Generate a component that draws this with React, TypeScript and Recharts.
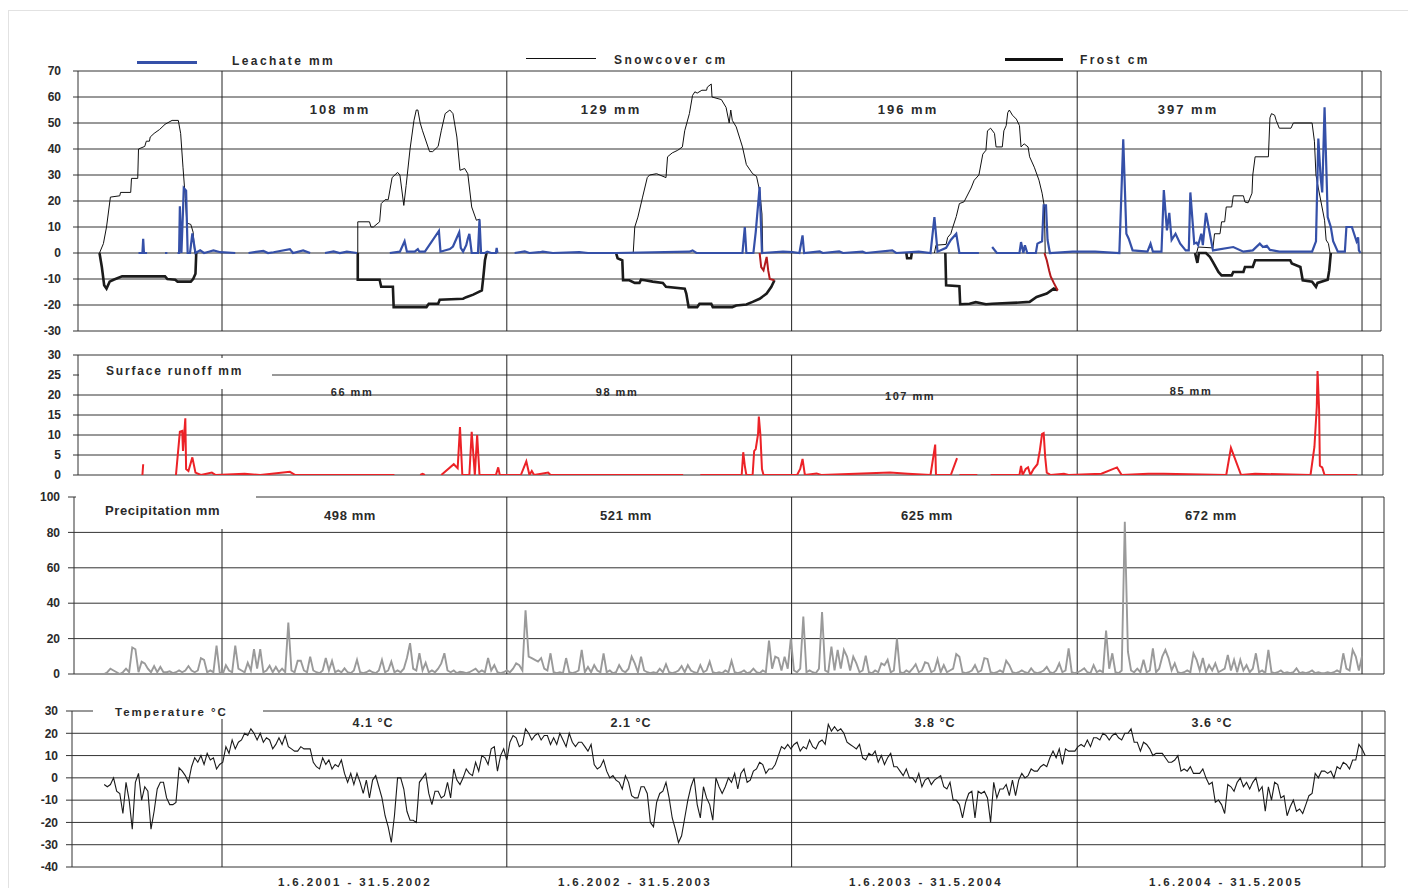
import { LineChart, Line, XAxis, YAxis, CartesianGrid, ReferenceLine } from "recharts";

// x values are days counted from 1.1.2001
const yearStarts = [151, 516, 881, 1247, 1612];
const periodLabels = ["1.6.2001 - 31.5.2002", "1.6.2002 - 31.5.2003", "1.6.2003 - 31.5.2004", "1.6.2004 - 31.5.2005"];
const leachateTotals = ["108 mm", "129 mm", "196 mm", "397 mm"];
const runoffTotals = ["66 mm", "98 mm", "107 mm", "85 mm"];
const precipTotals = ["498 mm", "521 mm", "625 mm", "672 mm"];
const tempMeans = ["4.1 °C", "2.1 °C", "3.8 °C", "3.6 °C"];

const ticksTop = [70, 60, 50, 40, 30, 20, 10, 0, -10, -20, -30];
const ticksRunoff = [30, 25, 20, 15, 10, 5, 0];
const ticksPrecip = [100, 80, 60, 40, 20, 0];
const ticksTemp = [30, 20, 10, 0, -10, -20, -30, -40];

type Pt = [number, number | null];

const snowCm: Pt[] = [
  [-6, 0], [-1, 3.6], [3, 10], [8, 21.5], [20, 22], [21, 23.3], [34, 23.3], [35, 28.7], [43, 28.7], [44, 40], [52, 41], [54, 43], [58, 43], [59, 44.6], [64, 46], [71, 47.5], [78, 49.5], [87, 51], [95, 51], [98, 46], [101, 33], [104, 21], [106, 11.5], [111, 11], [114, 8], [116, 0], [200, null],
  [325, 0], [325, 12], [340, 12], [342, 10], [345, 10], [353, 12], [355, 19], [360, 20.5], [364, 20.5], [369, 29], [376, 31], [379, 30], [384, 18.3], [387, 26], [392, 40], [397, 51], [400, 55], [402, 55], [405, 50], [408, 47], [417, 39], [421, 39], [428, 41], [432, 47], [437, 53.6], [443, 55], [447, 53.6], [452, 44.6], [456, 31.8], [462, 32.5], [466, 30.5], [471, 17.7], [477, 12.6], [481, 13], [482, 0], [560, null],
  [678, 0], [680, 10], [684, 13.8], [690, 21.5], [696, 29], [699, 30], [708, 30.5], [720, 29], [722, 37], [728, 38.5], [735, 39.5], [741, 40.8], [744, 47], [750, 53.6], [754, 60.6], [757, 62], [760, 61.5], [766, 62.6], [772, 62.6], [773, 63.8], [778, 65], [779, 60], [791, 59], [797, 56], [801, 50], [803, 55], [805, 51], [810, 48.5], [818, 40.8], [823, 34], [831, 30.5], [836, 29.5], [840, 24], [843, 15], [844, 0], [950, null],
  [1064, 0], [1066, 3], [1079, 3.3], [1081, 6], [1085, 7.4], [1087, 9.4], [1092, 14], [1096, 19], [1102, 19.7], [1111, 25], [1115, 28], [1121, 30], [1126, 38], [1130, 39.5], [1132, 47], [1136, 48], [1141, 46], [1143, 40.8], [1151, 40.8], [1153, 47], [1156, 49], [1158, 54], [1160, 55], [1164, 53], [1169, 51.5], [1173, 49], [1175, 40.8], [1179, 42], [1184, 40.8], [1186, 37], [1192, 33], [1198, 28], [1202, 23], [1205, 17.7], [1206, 0], [1300, null],
  [1400, 0], [1402, 2.3], [1419, 2], [1421, 2], [1423, 7.4], [1430, 7.4], [1432, 12], [1436, 12], [1438, 17.7], [1445, 17.7], [1447, 22], [1460, 22], [1462, 19.6], [1466, 19.3], [1471, 23], [1472, 30], [1475, 37], [1492, 37], [1494, 52], [1496, 53.6], [1500, 53], [1502, 51], [1506, 48], [1521, 48], [1524, 50], [1548, 50], [1551, 43], [1553, 30], [1556, 25], [1564, 12.6], [1566, 5], [1569, 3.6], [1571, 0],
];

const frostCm: Pt[] = [
  [-6, 0], [-3, -5.4], [0, -12.4], [3, -13.7], [7, -11], [12, -10.3], [23, -9], [78, -9], [81, -10], [91, -10.3], [94, -11], [111, -11], [114, -10], [117, -8], [118, 0], [200, null],
  [325, 0], [325, -10.3], [353, -10.3], [355, -13], [370, -13], [371, -20.8], [413, -20.8], [416, -19.5], [428, -19.5], [430, -18], [460, -17.6], [464, -17], [473, -16], [484, -14.4], [486, -9], [488, -2.8], [490, 0], [560, null],
  [656, 0], [658, -2], [664, -2.8], [665, -10.5], [673, -10.5], [680, -11.5], [686, -11.5], [688, -10.3], [693, -10.5], [703, -11], [716, -11.5], [720, -13], [744, -13.7], [746, -15.6], [749, -20.8], [760, -20.8], [763, -19.5], [778, -19.5], [780, -20.8], [805, -20.8], [810, -20.2], [823, -19.8], [831, -18.8], [840, -17.6], [849, -15.6], [855, -13], [859, -10.5], [950, null],
  [1028, 0], [1029, -2], [1034, -2], [1035, 0], [1050, null],
  [1078, 0], [1079, -12.4], [1096, -12.8], [1097, -19.7], [1109, -19.5], [1117, -18.9], [1130, -19.7], [1138, -19.5], [1164, -19.2], [1186, -18.8], [1195, -16.9], [1208, -15.6], [1217, -13.7], [1222, -14.4], [1300, null],
  [1398, 0], [1401, -3.8], [1403, 0], [1412, 0], [1417, -1.5], [1421, -3.5], [1428, -7.3], [1432, -8.6], [1445, -8.6], [1447, -7.3], [1460, -7.3], [1462, -5.4], [1472, -5.4], [1475, -2.8], [1520, -2.8], [1522, -4], [1533, -5.4], [1536, -10.5], [1548, -11], [1553, -13], [1555, -11.5], [1568, -10.3], [1570, -6.7], [1572, 0],
];

const thawCm: Pt[] = [
  [840, 0], [842, -5.4], [845, -6.7], [849, -1.5], [851, -6.7], [853, -10], [859, -10.5], [1000, null],
  [1205, 0], [1208, -2.8], [1211, -6.7], [1213, -9], [1217, -11.5], [1222, -14.4],
];

const leachateMm: Pt[] = [
  [44, 0], [49, 0], [50, 5.5], [51, 0], [55, 0], [60, null],
  [78, 0], [81, 0], [85, null],
  [94, 0], [96, 0], [97, 18], [99, 0], [101, 16], [102, 25], [105, 24], [107, 0], [110, 0], [113, 7.5], [117, 0], [123, 1], [128, 0], [134, 0.5], [140, 1], [149, 0.3], [168, 0], [176, null],
  [185, 0], [204, 0.8], [210, 0], [217, 0.3], [238, 1.5], [242, 0], [255, 1], [264, 0], [272, null],
  [283, 0], [294, 0.6], [302, 0], [311, 0.5], [324, 0], [340, null],
  [366, 0], [379, 0.5], [385, 4.5], [388, 0.5], [398, 0.5], [402, 1.5], [404, 0.5], [411, 0.5], [429, 8.5], [431, 0.5], [443, 1.5], [447, 2.5], [455, 8], [457, 2], [460, 0.5], [464, 3], [466, 5.5], [468, 7.4], [471, 0], [479, 0], [481, 13], [483, 0], [488, 0], [491, 0.5], [496, 0], [502, 0], [503, 2], [504, 0], [510, null],
  [526, 0], [539, 0.6], [545, 0], [558, 0.3], [562, 0.5], [575, 0], [609, 0.3], [620, 0], [656, 0], [750, 0.5], [754, 1], [759, 0], [818, 0], [821, 10], [823, 0], [832, 0], [835, 8], [840, 25.4], [843, 0], [870, 0.5], [882, 0.3], [891, 0], [895, 6.8], [897, 0], [917, 0.6], [921, 0], [942, 0.6], [947, 0], [972, 0.5], [976, 0], [1010, 1], [1015, 0], [1044, 0.5], [1059, 0], [1064, 13.8], [1068, 0.5], [1079, 2], [1085, 5], [1092, 7.4], [1096, 0], [1121, 0], [1125, null],
  [1138, 2.3], [1144, 0], [1173, 0], [1175, 4.2], [1178, 0], [1180, 3], [1183, 0], [1194, 0], [1196, 3.6], [1202, 4.5], [1204, 18.3], [1207, 18.3], [1209, 5], [1212, 0], [1241, 0.5], [1270, 0.5], [1301, 0],
  [1306, 43.7], [1310, 7.4], [1313, 5.5], [1318, 1], [1337, 0.5], [1341, 3.6], [1344, 0.5], [1355, 0.5], [1358, 24.2], [1362, 8.7], [1365, 15.4], [1368, 5], [1373, 7.4], [1379, 3.6], [1386, 1], [1390, 1], [1392, 23.3], [1397, 3.6], [1400, 4], [1402, 3], [1406, 7.4], [1408, 3], [1412, 15.4], [1417, 7.4], [1421, 1], [1447, 2.3], [1460, 0.5], [1472, 1], [1481, 3.6], [1485, 2.3], [1490, 2.8], [1494, 1.2], [1506, 0.5], [1548, 0.5], [1553, 4.5], [1556, 44], [1559, 29], [1561, 23.3], [1564, 56], [1567, 25], [1568, 13.8], [1572, 10], [1575, 4.5], [1581, 0.5], [1590, 0.5], [1592, 10], [1599, 10], [1605, 4.5], [1607, 6], [1608, 1], [1610, 0],
];

const runoffMm: Pt[] = [
  [49, 0], [50, 2.7], [55, null],
  [92, 0], [97, 10.8], [100, 11], [101, 6], [104, 14.2], [105, 1.5], [108, 1], [113, 4.4], [117, 0.6], [124, 0], [138, 0.6], [143, 0], [180, 0.3], [200, 0], [238, 0.8], [245, 0], [300, 0], [372, 0], [380, null],
  [405, 0], [408, 0.3], [411, 0], [420, null],
  [432, 0], [448, 2.7], [453, 1.7], [456, 12], [459, 0], [468, 0], [471, 10.8], [475, 0], [478, 10], [481, 0], [502, 0], [505, 1.9], [507, 0], [534, 0], [541, 3.4], [545, 0], [548, 1], [551, 0], [569, 0.6], [572, 0], [742, 0], [750, null],
  [764, 0], [817, 0], [819, 5.7], [821, 2.3], [823, 0], [831, 0], [833, 6], [835, 6.5], [838, 10.3], [839, 14.6], [841, 10], [843, 1.5], [845, 0], [876, 0], [888, 0], [892, 1.5], [895, 4], [898, 0], [913, 0.4], [919, 0], [1007, 0.6], [1030, 0.3], [1059, 0], [1065, 7.6], [1066, 0], [1085, 0], [1093, 4.2], [1094, null],
  [1096, 0], [1119, 0], [1125, null],
  [1136, 0], [1173, 0], [1175, 2.3], [1177, 0], [1181, 1.5], [1184, 1.9], [1187, 0], [1191, 1.5], [1196, 2.7], [1199, 6], [1202, 10.3], [1204, 10.5], [1206, 4.4], [1208, 0.6], [1213, 0], [1230, 0.3], [1236, 0], [1278, 0.3], [1298, 1.9], [1304, 0], [1338, 0.3], [1358, 0.3], [1438, 0], [1444, 6.8], [1457, 0], [1475, 0.3], [1546, 0], [1551, 7], [1554, 17], [1555, 26], [1557, 16.3], [1558, 2.3], [1561, 1.9], [1564, 0], [1606, 0],
];

// daily series read every 4 days, starting 1.1.2001
const STEP = 4;
const precipMm = [
  0, 1, 3, 2, 1, 0, 1, 3, 1, 15, 14, 1, 7, 6, 3, 1, 4.5, 1, 4, 1,
  1, 1.5, 0.5, 1, 2, 1, 2, 4.5, 2, 1, 2, 9, 8, 1, 2, 1, 16, 1, 0, 5,
  2, 1, 16, 3, 2, 1, 6.4, 2, 14, 3, 14, 1, 2, 4.7, 1, 4, 1, 3, 1, 29,
  2, 1, 7.5, 7.5, 2, 1, 9.8, 2, 1, 0.5, 2, 9, 2, 7.4, 1, 2, 1, 3.2, 1, 0.5,
  2, 8, 1, 0.5, 1, 2, 1, 0.5, 2, 8, 1, 2, 7, 1, 2, 1, 3, 9, 17.4, 3,
  2, 11.7, 2, 6.4, 1, 2, 1, 3, 6, 11.7, 2, 1, 2, 0.5, 1.3, 1, 0.5, 1, 2, 3,
  1, 2, 1, 9, 2, 5, 1, 0.5, 1, 2, 1, 3, 6, 5, 2, 36, 9.8, 9, 8, 7,
  9, 3, 2, 11.7, 1, 0.5, 1, 0.5, 9, 1, 0.5, 1, 2, 13.6, 1, 4, 1, 5, 2, 1,
  11.7, 1, 2, 0.5, 1, 5, 2, 1, 3, 9.8, 6, 1, 9.8, 2, 1, 0.5, 1, 0.5, 3, 1,
  5.5, 1, 0.5, 1, 2, 4.5, 1, 5, 2, 1, 0.5, 5, 1, 2, 7, 1, 0.5, 1, 0.5, 2,
  1, 7.4, 1, 0.5, 1, 2, 0.5, 1, 3, 1, 0.5, 2, 1, 18.9, 3, 9.8, 9, 2, 9.8, 3,
  20, 2, 1, 3, 32.5, 1, 2, 1, 0.5, 3, 35, 2, 1, 15.5, 2, 13.6, 3, 13.6, 9.8, 2,
  9.8, 6, 1, 2, 10.4, 1, 0.5, 2, 1, 6, 5, 8, 1, 2, 20, 1, 0.5, 2, 1, 3,
  5.5, 1, 2, 6.6, 6, 1, 2, 8.3, 1, 5, 1, 2, 3, 11.3, 9.8, 1, 0.5, 1, 2, 5,
  1, 2, 9, 8.5, 1, 0.5, 1, 2, 1, 7.5, 5, 1, 0.5, 1, 2, 1, 0.5, 3.2, 1, 0.5,
  1, 2, 4, 1, 0.5, 2, 6, 1, 2, 14.5, 1, 0.5, 1, 2, 3.2, 1, 0.5, 5, 1, 2,
  1, 24.5, 3, 11.7, 1, 0.5, 2, 86, 12.6, 2, 1, 3, 1, 8, 1, 2, 14.5, 1, 3, 9.8,
  13.6, 9, 2, 6, 1, 0.5, 1, 2, 1, 11.7, 8, 2, 9, 1, 5, 2, 6, 1, 2, 3,
  10.8, 2, 8, 1, 8, 2, 5, 1, 3, 11.7, 1, 2, 0.5, 13.6, 1, 0.5, 1, 2, 0.5, 1,
  0.5, 1, 3.2, 0.5, 1, 0.5, 1, 2, 0.5, 1, 0.5, 0.5, 1, 0.5, 1, 2, 1, 11.7, 3, 2, 13.6, 9.8, 2, 10,
];

const temperatureC = [
  -3, -4, -3, 0, -6, -7, -16, -2, -10, -23, -2, 2, -10, -4, -6, -23, -15, -5, -2, -2,
  -9, -12, -12, -11, 4.5, 3, 1, -2, 5, 9, 7, 10, 6, 11, 8, 9, 4, 6, 7, 14,
  11, 17, 13, 16, 17, 20, 19, 22, 20, 17, 20, 16, 18, 17, 13, 15, 18, 15, 19, 14,
  13, 12, 12, 14, 13, 13, 13, 7, 5, 4, 9, 6, 8, 4, 6, 5, 8, 2, -2, 2,
  -3, 2, -2, -7, -1, -9, -1, 1, -4, -9, -17, -22, -29, -17, 0, 0, -5, -15, -19, -19,
  -20, -2, 0, 2, -7, -12, -6, -6, -9, -8, -2, -9, 4, -1, -3, 0, 4, 2, 1, 7,
  3, 10, 9, 6, 13, 14, 3, 10, 13, 8, 16, 19, 18, 14, 15, 22, 20, 17, 19, 20,
  17, 19, 19, 15, 18, 15, 20, 17, 14, 20, 16, 14, 16, 16, 14, 12, 15, 6, 4, 5,
  8, 3, 0, 1, -1, -2, -5, 1, -2, -8, -9, -9, -4, -4, -7, -20, -22, -11, -7, -6,
  -2, -9, -18, -23, -29, -26, -18, -10, -4, 0, -12, -18, -4, -9, -12, -19, 0, -4, -7, -4,
  0, -2, 2, -5, 2, 4, -2, -1, 3, 4, 7, 6, 2, 4, 4, 6, 10, 14, 13, 15,
  13, 15, 16, 12, 14, 13, 17, 14, 13, 16, 17, 15, 24, 21, 23, 21, 22, 20, 16, 15,
  14, 13, 15, 9, 8, 11, 10, 12, 7, 10, 6, 9, 11, 5, 5, 3, 1, 4, 0, 0,
  -2, 2, -4, -1, 0, -3, -1, 0, 1, -4, -5, -2, -10, -10, -12, -18, -11, -7, -6, -18,
  -6, -7, -6, -9, -20, -2, -9, -5, -5, -3, -8, -1, -8, -1, 2, 0, 1, 4, 3, 3,
  5, 6, 5, 9, 12, 9, 13, 6, 13, 12, 12, 12, 14, 15, 14, 17, 14, 18, 18, 17,
  20, 19, 17, 19, 20, 18, 17, 20, 20, 22, 16, 16, 12, 16, 15, 13, 10, 11, 11, 11,
  9, 7, 7, 8, 10, 3, 4, 3, 5, 2, 2, 2, 4, 0, -3, -2, -11, -10, -12, -16,
  -3, -4, -6, -2, 0, -4, -2, -5, -2, 0, -6, -4, -15, -4, -10, -2, -3, -9, -8, -17,
  -13, -10, -15, -14, -16, -12, -8, -7, 2, 0, 3, 3, 2, 3, 0, 5, 4, 7, 6, 4,
  8, 8, 15, 13, 10,
];

const pts = (list: Pt[]) => list.map(([d, v]) => ({ d, v }));
const daily = (list: number[]) => list.map((v, i) => ({ d: i * STEP, v }));

// pixel <-> day mapping of the original figure (1.6.2001 at x=222, 0.78 px per day)
const dayAt = (px: number) => 151 + (px - 222) / 0.7803;

const FONT = '"Liberation Sans", Arial, Helvetica, sans-serif';
const INK = "#2a2a2a";

type PanelProps = {
  top: number; height: number; plotTop: number; plotBottom: number;
  left: number; right: number; yDomain: [number, number]; yTicks: number[];
  tickSize: number; tickMargin: number; children: React.ReactNode;
};

function Panel({ top, height, plotTop, plotBottom, left, right, yDomain, yTicks, tickSize, tickMargin, children }: PanelProps) {
  const d0 = dayAt(left);
  const d1 = dayAt(right);
  return (
    <div style={{ position: "absolute", left: 0, top, width: 1408, height }}>
      <LineChart
        width={1408}
        height={height}
        margin={{ top: plotTop - top, right: 1408 - right, bottom: top + height - plotBottom, left: 0 }}
      >
        <CartesianGrid vertical={false} stroke="#333" strokeWidth={1} />
        <XAxis type="number" dataKey="d" domain={[d0, d1]} allowDataOverflow hide />
        <YAxis
          type="number"
          domain={yDomain}
          ticks={yTicks}
          interval={0}
          width={left}
          allowDataOverflow
          tickSize={tickSize}
          tickMargin={tickMargin}
          axisLine={{ stroke: "#333" }}
          tickLine={{ stroke: "#333" }}
          tick={{ fontFamily: FONT, fontWeight: 700, fontSize: 12, fill: INK }}
        />
        {yearStarts.map((d) => (
          <ReferenceLine key={d} x={d} stroke="#222" />
        ))}
        <ReferenceLine x={d1} stroke="#333" />
        {children}
      </LineChart>
    </div>
  );
}

function Txt({ x, y, size = 12, spacing = 2, left = false, children }: { x: number; y: number; size?: number; spacing?: number; left?: boolean; children: React.ReactNode }) {
  return (
    <div
      style={{
        position: "absolute",
        left: x,
        top: y,
        transform: left ? "translate(0,-50%)" : "translate(-50%,-50%)",
        fontFamily: FONT,
        fontWeight: 700,
        fontSize: size,
        letterSpacing: spacing,
        color: INK,
        whiteSpace: "nowrap",
        lineHeight: 1,
      }}
    >
      {children}
    </div>
  );
}

const box = (x: number, y: number, w: number, h: number) => (
  <div style={{ position: "absolute", left: x, top: y, width: w, height: h, background: "#fff" }} />
);

const line = (x: number, y: number, w: number, h: number, c: string) => (
  <div style={{ position: "absolute", left: x, top: y, width: w, height: h, background: c }} />
);

export default function App() {
  const common = { dataKey: "v", type: "linear" as const, dot: false, activeDot: false, isAnimationActive: false, connectNulls: false };
  return (
    <div style={{ position: "absolute", left: 0, top: 0, width: 1408, height: 888, background: "#fff", overflow: "hidden" }}>
      <div style={{ position: "absolute", left: 8, top: 10, width: 1400, height: 878, borderLeft: "1px solid #e2e2e2", borderTop: "1px solid #e2e2e2" }} />

      <Panel top={0} height={345} plotTop={71} plotBottom={331} left={78} right={1381} yDomain={[-30, 70]} yTicks={ticksTop} tickSize={5} tickMargin={12}>
        <Line {...common} data={pts(frostCm)} stroke="#1b1b1b" strokeWidth={2.6} />
        <Line {...common} data={pts(snowCm)} stroke="#111" strokeWidth={1} />
        <Line {...common} data={pts(thawCm)} stroke="#b3191c" strokeWidth={2} />
        <Line {...common} data={pts(leachateMm)} stroke="#3550a8" strokeWidth={2.2} />
      </Panel>

      <Panel top={340} height={150} plotTop={355} plotBottom={475} left={78} right={1383} yDomain={[0, 30]} yTicks={ticksRunoff} tickSize={5} tickMargin={12}>
        <Line {...common} data={pts(runoffMm)} stroke="#ec2227" strokeWidth={2} />
      </Panel>

      <Panel top={485} height={200} plotTop={497} plotBottom={674} left={74} right={1384} yDomain={[0, 100]} yTicks={ticksPrecip} tickSize={6} tickMargin={8}>
        <Line {...common} data={daily(precipMm)} stroke="#9a9a9a" strokeWidth={1.9} />
      </Panel>

      <Panel top={700} height={180} plotTop={711} plotBottom={867} left={72} right={1385} yDomain={[-40, 30]} yTicks={ticksTemp} tickSize={6} tickMargin={8}>
        <Line {...common} data={daily(temperatureC)} stroke="#1a1a1a" strokeWidth={1.1} />
      </Panel>

      {/* legend of the top panel */}
      {line(137, 61, 60, 3, "#3550a8")}
      <Txt x={232} y={61} left size={12} spacing={2.4}>Leachate mm</Txt>
      {line(526, 58, 70, 1, "#111")}
      <Txt x={614} y={60} left size={12} spacing={2.4}>Snowcover cm</Txt>
      {line(1005, 58, 58, 3, "#111")}
      <Txt x={1080} y={60} left size={12} spacing={2.4}>Frost cm</Txt>

      {leachateTotals.map((t, i) => (
        <Txt key={t} x={[340, 611, 908, 1188][i]} y={109} size={13} spacing={2}>{t}</Txt>
      ))}

      {box(79, 358, 193, 31)}
      <Txt x={106} y={371} left size={12} spacing={1.8}>Surface runoff mm</Txt>
      {runoffTotals.map((t, i) => (
        <Txt key={t} x={[352, 617, 910, 1191][i]} y={[392, 392, 396, 391][i]} size={11} spacing={1.5}>{t}</Txt>
      ))}

      {box(76, 491, 180, 38)}
      <Txt x={105} y={510} left size={13} spacing={0.6}>Precipitation mm</Txt>
      {precipTotals.map((t, i) => (
        <Txt key={t} x={[350, 626, 927, 1211][i]} y={515} size={13} spacing={0.6}>{t}</Txt>
      ))}

      {box(93, 704, 170, 15)}
      <Txt x={115} y={713} left size={11.5} spacing={2}>Temperature °C</Txt>
      {tempMeans.map((t, i) => (
        <Txt key={t} x={[373, 631, 935, 1212][i]} y={723} size={12.5} spacing={1}>{t}</Txt>
      ))}

      {periodLabels.map((t, i) => (
        <Txt key={t} x={[355, 635, 926, 1226][i]} y={883} size={11.5} spacing={2.4}>{t}</Txt>
      ))}
    </div>
  );
}
